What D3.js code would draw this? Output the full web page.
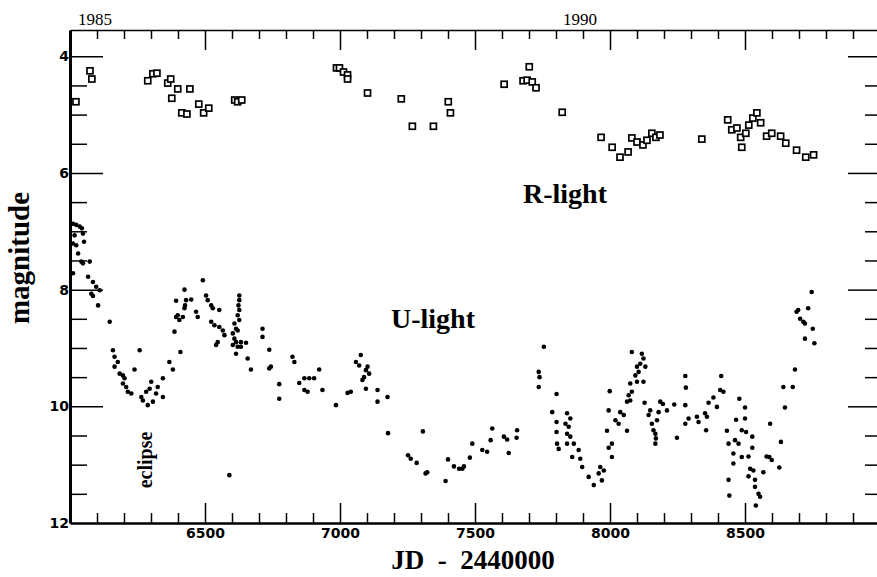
<!DOCTYPE html>
<html>
<head>
<meta charset="utf-8">
<script src="https://cdn.jsdelivr.net/npm/d3@7"></script>
<style>
  body { margin:0; background:#fff; }
  .tk line { stroke:#000; stroke-width:1.5; }
  .tk text { font-family:"DejaVu Sans", sans-serif; font-weight:bold; font-size:14px; fill:#000; }
  .yr text { font-family:"Liberation Serif", serif; font-weight:normal; font-size:17px; }
  .lbl { font-family:"Liberation Serif", serif; font-weight:bold; fill:#000; }
</style>
</head>
<body>
<div id="chart"></div>
<script>
// R-light (open squares), [JD-2440000, magnitude]
const rLight = [
  [6022,4.78],[6074,4.25],[6081,4.39],[6288,4.42],[6307,4.30],[6322,4.29],[6362,4.46],[6373,4.39],
  [6399,4.56],[6444,4.56],[6377,4.72],[6414,4.97],[6433,4.99],[6477,4.82],[6495,4.97],[6514,4.89],
  [6610,4.75],[6621,4.78],[6636,4.75],
  [6987,4.20],[6998,4.20],[7013,4.27],[7028,4.32],[7028,4.39],[7102,4.63],[7227,4.73],[7268,5.20],
  [7346,5.20],[7401,4.78],[7409,4.97],[7608,4.48],[7701,4.18],[7678,4.42],[7693,4.41],[7712,4.44],
  [7726,4.54],[7823,4.96],
  [7967,5.39],[8008,5.56],[8037,5.73],[8067,5.64],[8081,5.40],[8100,5.47],[8122,5.52],[8137,5.44],
  [8155,5.32],[8170,5.39],[8185,5.35],[8340,5.42],[8436,5.09],[8451,5.26],[8470,5.23],[8484,5.39],
  [8488,5.56],[8503,5.32],[8514,5.18],[8529,5.06],[8544,4.97],[8558,5.14],[8580,5.37],[8599,5.32],
  [8632,5.37],[8651,5.49],[8691,5.61],[8725,5.73],[8754,5.69]
]

// U-light (dots), [JD-2440000, magnitude]
const uLight = [
  [6011,6.87],[6023,6.89],[6036,6.92],[6044,6.95],[6017,7.07],[6048,7.04],[6052,7.18],[6011,7.21],
  [6023,7.24],[6030,7.38],[6042,7.52],[6048,7.55],[6073,7.52],[6011,7.72],[6067,7.78],[6085,7.87],
  [6097,7.95],[6110,8.01],[6079,8.07],[6085,8.11],[6104,8.27],[6147,8.55],[6159,9.04],[6165,9.15],
  [6177,9.24],[6165,9.32],[6184,9.44],[6196,9.47],[6202,9.52],[6196,9.61],[6208,9.67],[6214,9.75],
  [6227,9.78],[6258,9.04],[6239,9.37],[6264,9.84],[6270,9.90],[6282,9.75],[6301,9.58],[6295,9.70],
  [6288,9.98],[6307,9.92],[6319,9.78],[6325,9.67],[6344,9.52],[6344,9.84],[6368,9.24],[6381,9.37],
  [6387,8.72],[6409,9.07],[6393,8.47],[6399,8.44],[6405,8.52],[6418,8.47],[6393,8.19],[6424,8.32],
  [6426,8.27],[6424,8.00],[6430,8.18],[6449,8.17],[6467,8.38],[6473,8.47],[6492,7.84],[6504,8.10],
  [6510,8.18],[6523,8.27],[6529,8.32],[6553,8.35],[6523,8.55],[6535,8.61],[6553,8.64],[6566,8.70],
  [6572,8.78],[6547,8.90],[6541,8.95],[6627,8.10],[6627,8.18],[6624,8.27],[6627,8.35],[6621,8.44],
  [6627,8.52],[6609,8.58],[6615,8.67],[6621,8.70],[6603,8.75],[6609,8.84],[6615,8.90],[6633,8.90],
  [6652,8.91],[6603,8.95],[6621,8.98],[6633,8.98],[6615,9.10],[6658,9.18],[6670,9.37],[6713,8.67],
  [6713,8.81],[6738,9.03],[6744,9.32],[6738,9.35],[6775,9.62],[6775,9.87],[6824,9.15],[6831,9.24],
  [6849,9.60],[6868,9.52],[6886,9.52],[6904,9.52],[6868,9.72],[6880,9.75],[6923,9.37],[6935,9.72],
  [6590,11.18],
  [7077,9.12],[7059,9.24],[7071,9.30],[7102,9.32],[7096,9.38],[7108,9.44],[7089,9.50],[7083,9.55],
  [7040,9.75],[7028,9.77],[7096,9.70],[7139,9.72],[7139,9.92],[7176,9.84],[6985,9.98],[7178,10.46],
  [7307,10.43],[7252,10.84],[7262,10.90],[7284,10.97],[7317,11.15],[7323,11.13],[7391,11.28],
  [7400,10.91],[7422,11.03],[7441,11.07],[7453,11.07],[7459,11.03],[7481,10.88],[7490,10.64],
  [7527,10.75],[7545,10.78],[7558,10.58],[7564,10.38],[7607,10.52],[7619,10.57],[7625,10.80],
  [7656,10.41],[7654,10.54],[7755,8.98],[7736,9.41],[7739,9.50],[7736,9.67],[7802,9.79],[7786,10.10],
  [7802,10.27],[7802,10.44],[7841,10.12],[7853,10.21],[7835,10.30],[7847,10.35],[7841,10.47],
  [7853,10.52],[7804,10.64],[7810,10.73],[7841,10.64],[7866,10.64],[7860,10.87],[7884,10.75],
  [7890,10.90],[7897,11.04],
  [8747,8.04],[8734,8.32],[8691,8.38],[8704,8.50],[8716,8.55],[8722,8.58],[8751,8.67],[8722,8.84],
  [8757,8.92],[8697,8.35],[8685,9.37],[8642,9.67],[8677,9.67],[8648,10.02],[8593,10.30],[8633,10.61],
  [8627,11.05],[8590,10.87],[8599,10.92],[8580,10.86],[8479,9.87],[8500,10.02],[8467,10.23],
  [8500,10.21],[8433,10.42],[8488,10.41],[8504,10.44],[8527,10.52],[8527,10.71],[8463,10.58],
  [8476,10.64],[8439,10.64],[8457,10.81],[8488,10.87],[8513,10.86],[8457,10.98],[8519,11.07],
  [8531,11.10],[8513,11.20],[8537,11.26],[8568,11.13],[8439,11.26],[8537,11.38],[8550,11.50],
  [8556,11.55],[8442,11.53],[8540,11.70],[8279,9.48],[8281,9.68],[8279,9.98],[8412,9.48],[8408,9.72],
  [8420,9.75],[8383,9.85],[8396,10.01],[8365,9.94],[8352,10.12],[8359,10.18],[8322,10.18],
  [8328,10.27],[8291,10.21],[8279,10.30],[8356,10.41],[8248,10.54],[8128,9.94],[8149,10.07],
  [8143,10.15],[8186,9.92],[8196,9.96],[8211,10.07],[8238,9.97],[8174,10.24],[8180,10.10],
  [8155,10.30],[8161,10.41],[8168,10.47],[8170,10.55],[8168,10.64],[8081,9.07],[8118,9.10],
  [8124,9.18],[8112,9.27],[8100,9.32],[8131,9.32],[8106,9.41],[8094,9.47],[8100,9.58],[8124,9.58],
  [8075,9.61],[8081,9.75],[8069,9.81],[8063,9.92],[8075,9.90],[7999,9.74],[7995,10.07],[8038,10.10],
  [8051,10.15],[8020,10.24],[8032,10.30],[8063,10.42],[7989,10.42],[8007,10.64],[7995,10.71],
  [8007,10.87],[7964,11.04],[7977,11.10],[7958,11.15],[7970,11.27],[7921,11.21],[7940,11.35]
]

// ticks
const majorJD = [6500,7000,7500,8000,8500]
const minorJD = [6100,6200,6300,6400,6600,6700,6800,6900,7100,7200,7300,7400,7600,7700,7800,7900,
                 8100,8200,8300,8400,8600,8700,8800,8900]
const yearLabels = ["1985","1990"]
const yearJD = [6091,7887]
const majorMag = [4,6,8,10]
const minorMag = [4.5,5,5.5,6.5,7,7.5,8.5,9,9.5,10.5,11,11.5]
const labelMag = [4,6,8,10,12]

function render(){
  let width = 877,
      height = 577

  let xScale = d3.scaleLinear().domain([6000,9000]).range([70,880])
  let yScale = d3.scaleLinear().domain([3.55,12]).range([30,523])

  let svg = d3.select("#chart").append("svg")
              .attr("width",width)
              .attr("height",height)
  svg.append("rect").attr("width",width).attr("height",height).attr("fill","#fff")

  function addAxis(axis, tx, ty, keepDomain, domainWidth){
    let g = svg.append("g").attr("class","tk").attr("transform",`translate(${tx},${ty})`).call(axis)
    if(!keepDomain) g.select(".domain").remove()
    else g.select(".domain").attr("stroke","#000").attr("stroke-width",domainWidth)
    return g
  }

  // bottom
  addAxis(d3.axisTop(xScale).tickValues(minorJD).tickSize(10).tickSizeOuter(0).tickFormat(""),0,523,true,2.5)
  addAxis(d3.axisTop(xScale).tickValues(majorJD).tickSize(20).tickFormat(""),0,523,false)
  addAxis(d3.axisBottom(xScale).tickValues(majorJD).tickSize(0).tickPadding(5).tickFormat(d3.format("d")),0,523,false)
  // top
  addAxis(d3.axisBottom(xScale).tickValues(minorJD).tickSize(9).tickSizeOuter(0).tickFormat(""),0,30,true,1.6)
  addAxis(d3.axisBottom(xScale).tickValues(majorJD).tickSize(20).tickFormat(""),0,30,false)
  addAxis(d3.axisTop(xScale).tickValues(yearJD).tickSize(0).tickPadding(5).tickFormat((d,i)=>yearLabels[i]),0,30,false)
    .attr("class","tk yr")
  // left
  addAxis(d3.axisRight(yScale).tickValues(minorMag).tickSize(17).tickSizeOuter(0).tickFormat(""),70,0,true,3)
  addAxis(d3.axisRight(yScale).tickValues(majorMag).tickSize(33).tickFormat(""),70,0,false)
  addAxis(d3.axisLeft(yScale).tickValues(labelMag).tickSize(0).tickPadding(1).tickFormat(d3.format("d")),70,0,false)
  // right
  addAxis(d3.axisLeft(yScale).tickValues(minorMag).tickSize(15).tickSizeOuter(0).tickFormat(""),880,0,true,1.6)
  addAxis(d3.axisLeft(yScale).tickValues(majorMag).tickSize(32).tickFormat(""),880,0,false)

  // data
  svg.append("g").selectAll("circle")
    .data(uLight)
    .enter()
    .append("circle")
    .attr("cx",d=>xScale(d[0]))
    .attr("cy",d=>yScale(d[1]))
    .attr("r",2.3)
    .attr("fill","#000")

  svg.append("g").selectAll("rect")
    .data(rLight)
    .enter()
    .append("rect")
    .attr("x",d=>xScale(d[0])-3)
    .attr("y",d=>yScale(d[1])-3)
    .attr("width",6)
    .attr("height",6)
    .attr("fill","#fff")
    .attr("stroke","#000")
    .attr("stroke-width",1.7)

  // labels
  svg.append("text").attr("class","lbl").attr("x",565).attr("y",203).attr("text-anchor","middle")
     .attr("font-size",28).text("R-light")
  svg.append("text").attr("class","lbl").attr("x",433).attr("y",328).attr("text-anchor","middle")
     .attr("font-size",28).text("U-light")
  svg.append("text").attr("class","lbl").attr("x",473).attr("y",569).attr("text-anchor","middle")
     .attr("font-size",27).style("white-space","pre").text("JD  -  2440000")
  svg.append("text").attr("class","lbl").attr("transform","translate(29,258) rotate(-90)")
     .attr("text-anchor","middle").attr("font-size",29).text("magnitude")
  svg.append("text").attr("class","lbl").attr("transform","translate(152,460) rotate(-90)")
     .attr("text-anchor","middle").attr("font-size",20).attr("font-weight","normal").text("eclipse")
}

render()
</script>
</body>
</html>
